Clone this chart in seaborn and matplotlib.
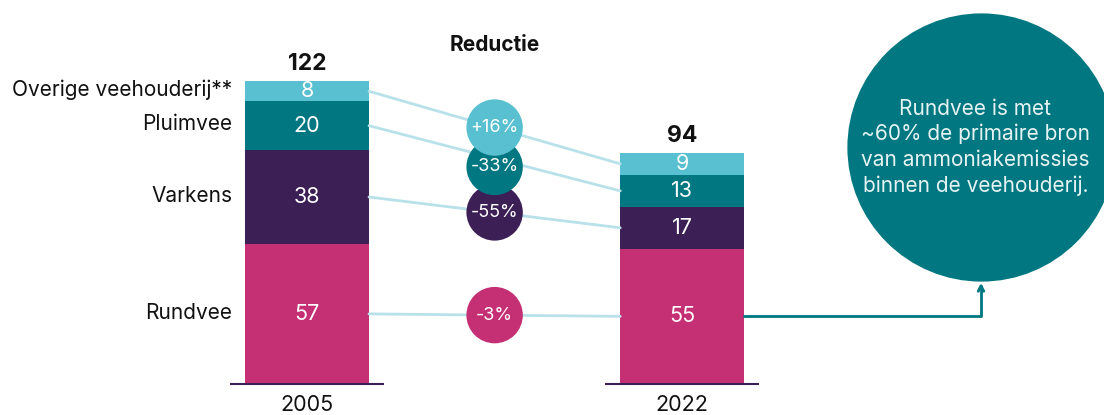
import matplotlib
matplotlib.use("Agg")
import matplotlib.pyplot as plt
import seaborn as sns
import pandas as pd

years = ['2005', '2022']
categories = ['Rundvee', 'Varkens', 'Pluimvee', 'Overige veehouderij**']
v2005 = [57, 38, 20, 8]
v2022 = [55, 17, 13, 9]
totals = [122, 94]
reductie = ['-3%', '-55%', '-33%', '+16%']
colors = ['#C53074', '#3C1F55', '#007781', '#58C0D0']
note = "Rundvee is met\n~60% de primaire bron\nvan ammoniakemissies\nbinnen de veehouderij."

sns.set_style("white")
plt.rcParams['font.family'] = ['Inter', 'DejaVu Sans']

fig = plt.figure(figsize=(11.04, 4.15), dpi=100)
ax = fig.add_axes([0, 0, 1, 1])

# stacked bars: draw cumulative totals from the top down
cum05 = pd.Series(v2005).cumsum().tolist()
cum22 = pd.Series(v2022).cumsum().tolist()
bw = 0.33
for i in range(len(categories) - 1, -1, -1):
    df = pd.DataFrame({'jaar': years, 'waarde': [cum05[i], cum22[i]]})
    sns.barplot(data=df, x='jaar', y='waarde', color=colors[i], width=bw,
                saturation=1, errorbar=None, linewidth=0, ax=ax)

mid05 = [c - v / 2 for c, v in zip(cum05, v2005)]
mid22 = [c - v / 2 for c, v in zip(cum22, v2022)]

# connector lines between bars
for a, b in zip(mid05, mid22):
    ax.plot([bw / 2, 1 - bw / 2], [a, b], color='#B9E1EA', lw=2, zorder=1)

# reduction bubbles at line midpoints, pushed apart from the top down
by = [(a + b) / 2 for a, b in zip(mid05, mid22)]
for i in range(len(by) - 2, -1, -1):
    by[i] = min(by[i], by[i + 1] - 16)
bub = pd.DataFrame({'x': [0.5] * 4, 'y': by, 'cat': categories})
sns.scatterplot(data=bub, x='x', y='y', hue='cat', palette=colors, s=1650,
                linewidth=0, legend=False, zorder=3, ax=ax)
for y, t in zip(by, reductie):
    ax.text(0.5, y, t, color='white', fontsize=13, ha='center', va='center', zorder=4)

# value labels inside segments
for i in range(len(categories)):
    ax.text(0, mid05[i], str(v2005[i]), color='white', fontsize=15.5,
            ha='center', va='center', zorder=4)
    ax.text(1, mid22[i], str(v2022[i]), color='white', fontsize=15.5,
            ha='center', va='center', zorder=4)
    ax.text(-0.2, mid05[i] + 0.5, categories[i], color='#111111', fontsize=15,
            ha='right', va='center')

# totals and years
for x, t, c in zip([0, 1], totals, [cum05[-1], cum22[-1]]):
    ax.text(x, c + 7, str(t), fontsize=16.5, fontweight='bold',
            ha='center', va='center', color='#111111')
for x, yr in zip([0, 1], years):
    ax.hlines(0, x - 0.205, x + 0.205, color='#3C1F55', lw=1.5)
    ax.text(x, -8.6, yr, fontsize=15.5, ha='center', va='center', color='#111111')

ax.text(0.5, 137.8, 'Reductie', fontsize=15, fontweight='bold',
        ha='center', va='center', color='#111111')

# callout circle with arrow from Rundvee 2022
cx, cy = 1.797, 96.3
ax.scatter([cx], [cy], s=37300, color='#007781', linewidth=0, zorder=2)
ax.text(cx - 0.015, cy, note, color='#E6F3F3', fontsize=15, ha='center',
        va='center', linespacing=1.33, zorder=4)
ax.annotate('', xy=(cx, 41.2), xytext=(1 + bw / 2, mid22[0]),
            arrowprops=dict(arrowstyle='->', color='#007781', lw=2,
                            connectionstyle='angle,angleA=0,angleB=90,rad=0',
                            shrinkA=0, shrinkB=0))

ax.set_xlim(-0.819, 2.125)
ax.set_ylim(-12.6, 156.1)
ax.axis('off')

fig.savefig('out.png', dpi=100)
